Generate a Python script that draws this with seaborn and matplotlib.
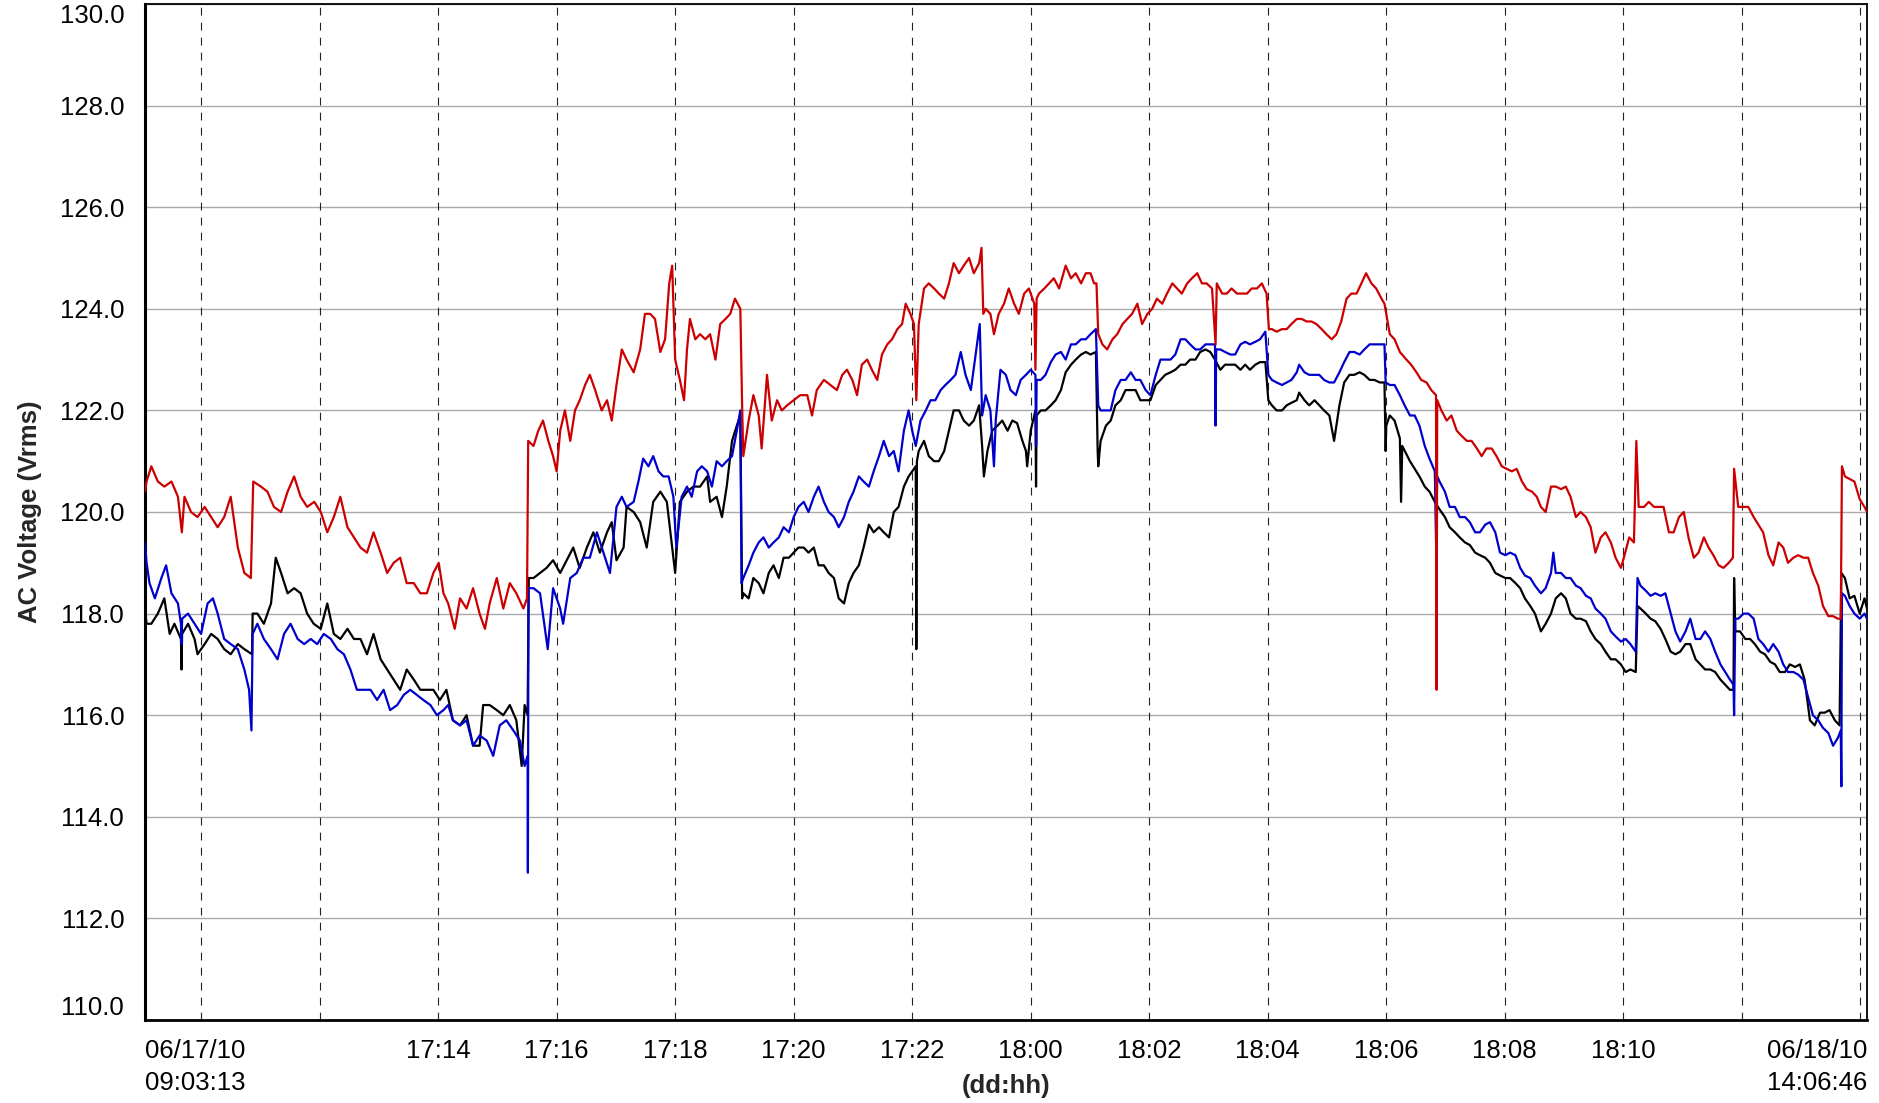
import numpy as np
import pandas as pd
import matplotlib
matplotlib.use("Agg")
import matplotlib.pyplot as plt
import seaborn as sns

# ---------------- data (hours since 2010-06-17 00:00, AC volts) ----------------
day0 = pd.Timestamp("2010-06-17 00:00:00")
t_start = pd.Timestamp("2010-06-17 09:03:13")
t_end = pd.Timestamp("2010-06-18 14:06:46")

red_hours = [9.054, 9.08, 9.16, 9.27, 9.38, 9.50, 9.61, 9.675, 9.72, 9.83, 9.94, 10.06, 10.17, 10.28, 10.39,
             10.50, 10.62, 10.73, 10.84, 10.88, 11.01, 11.12, 11.23, 11.35, 11.46, 11.57, 11.68, 11.79, 11.91,
             12.02, 12.13, 12.24, 12.35, 12.47, 12.58, 12.69, 12.80, 12.91, 13.03, 13.14, 13.25, 13.36, 13.47,
             13.59, 13.70, 13.81, 13.92, 14.01, 14.09, 14.17, 14.28, 14.37, 14.48, 14.59, 14.70, 14.79, 14.87,
             14.99, 15.10, 15.21, 15.32, 15.44, 15.50, 15.52, 15.61, 15.69, 15.77, 15.86, 15.94, 16.00, 16.06,
             16.14, 16.23, 16.31, 16.39, 16.48, 16.56, 16.65, 16.76, 16.85, 16.93, 17.01, 17.10, 17.18, 17.30,
             17.41, 17.49, 17.58, 17.66, 17.75, 17.83, 17.90, 17.95, 18.00, 18.08, 18.15, 18.20, 18.25, 18.34,
             18.42, 18.51, 18.59, 18.68, 18.76, 18.85, 18.93, 19.01, 19.10, 19.13, 19.15, 19.24, 19.32, 19.41,
             19.46, 19.55, 19.63, 19.72, 19.80, 19.89, 20.00, 20.11, 20.23, 20.31, 20.39, 20.51, 20.62, 20.73,
             20.82, 20.90, 20.99, 21.07, 21.15, 21.24, 21.32, 21.41, 21.49, 21.58, 21.66, 21.75, 21.83, 21.89,
             21.97, 22.03, 22.07, 22.11, 22.20, 22.28, 22.37, 22.45, 22.54, 22.62, 22.70, 22.79, 22.87, 22.96,
             23.04, 23.13, 23.17, 23.20, 23.24, 23.32, 23.38, 23.46, 23.55, 23.63, 23.72, 23.80, 23.89, 23.97,
             24.06, 24.08, 24.10, 24.14, 24.23, 24.31, 24.39, 24.48, 24.59, 24.68, 24.76, 24.85, 24.93, 25.01,
             25.07, 25.11, 25.14, 25.21, 25.29, 25.38, 25.46, 25.55, 25.63, 25.71, 25.80, 25.88, 25.97, 26.05,
             26.13, 26.22, 26.30, 26.39, 26.47, 26.55, 26.64, 26.72, 26.81, 26.89, 26.97, 27.06, 27.12, 27.14,
             27.23, 27.31, 27.39, 27.48, 27.56, 27.65, 27.73, 27.82, 27.90, 27.98, 28.02, 28.07, 28.15, 28.24,
             28.32, 28.40, 28.49, 28.57, 28.66, 28.74, 28.82, 28.91, 28.99, 29.08, 29.16, 29.24, 29.33, 29.41,
             29.50, 29.58, 29.66, 29.75, 29.83, 29.92, 29.97, 30.06, 30.14, 30.23, 30.34, 30.42, 30.51, 30.59,
             30.68, 30.76, 30.84, 30.85, 30.86, 30.93, 31.02, 31.10, 31.19, 31.27, 31.36, 31.44, 31.53, 31.61,
             31.69, 31.78, 31.86, 31.95, 32.03, 32.12, 32.20, 32.29, 32.37, 32.46, 32.54, 32.61, 32.69, 32.78,
             32.86, 32.95, 33.03, 33.11, 33.20, 33.28, 33.37, 33.45, 33.53, 33.62, 33.70, 33.79, 33.87, 33.96,
             34.01, 34.10, 34.18, 34.22, 34.26, 34.35, 34.43, 34.52, 34.60, 34.68, 34.77, 34.85, 34.94, 35.02,
             35.10, 35.19, 35.27, 35.36, 35.44, 35.52, 35.61, 35.69, 35.78, 35.85, 35.87, 35.94, 36.03, 36.11,
             36.20, 36.28, 36.36, 36.45, 36.53, 36.62, 36.70, 36.78, 36.87, 36.95, 37.04, 37.12, 37.20, 37.29,
             37.37, 37.46, 37.54, 37.62, 37.67, 37.69, 37.74, 37.82, 37.90, 37.99, 38.07, 38.113]
red_volts = [120.4, 120.6, 120.9, 120.6, 120.5, 120.6, 120.3, 119.6, 120.3, 120.0, 119.9, 120.1, 119.9, 119.7, 119.9,
             120.3, 119.3, 118.8, 118.7, 120.6, 120.5, 120.4, 120.1, 120.0, 120.4, 120.7, 120.3, 120.1, 120.2,
             120.0, 119.6, 119.9, 120.3, 119.7, 119.5, 119.3, 119.2, 119.6, 119.2, 118.8, 119.0, 119.1, 118.6,
             118.6, 118.4, 118.4, 118.8, 119.0, 118.4, 118.2, 117.7, 118.3, 118.1, 118.5, 118.0, 117.7, 118.2,
             118.7, 118.1, 118.6, 118.4, 118.1, 118.3, 121.4, 121.3, 121.6, 121.8, 121.4, 121.1, 120.8, 121.6,
             122.0, 121.4, 122.0, 122.2, 122.5, 122.7, 122.4, 122.0, 122.2, 121.8, 122.5, 123.2, 123.0, 122.75,
             123.2, 123.9, 123.9, 123.8, 123.15, 123.4, 124.5, 124.85, 123.0, 122.6, 122.2, 123.2, 123.8, 123.4,
             123.5, 123.4, 123.5, 123.0, 123.7, 123.8, 123.9, 124.2, 124.0, 122.1, 121.1, 121.8, 122.3, 121.9,
             121.25, 122.7, 121.8, 122.2, 122.0, 122.1, 122.2, 122.3, 122.3, 121.9, 122.4, 122.6, 122.5, 122.4,
             122.7, 122.8, 122.6, 122.3, 122.9, 123.0, 122.8, 122.6, 123.1, 123.3, 123.4, 123.6, 123.7, 124.1,
             123.9, 123.7, 122.2, 123.7, 124.4, 124.5, 124.4, 124.3, 124.2, 124.5, 124.9, 124.7, 124.85, 125.0,
             124.7, 124.9, 125.2, 123.9, 124.0, 123.9, 123.5, 123.9, 124.1, 124.4, 124.1, 123.9, 124.3, 124.4,
             124.1, 122.8, 124.2, 124.3, 124.4, 124.5, 124.6, 124.4, 124.85, 124.6, 124.7, 124.5, 124.7, 124.7,
             124.5, 124.5, 123.5, 123.3, 123.2, 123.4, 123.5, 123.7, 123.8, 123.9, 124.1, 123.7, 123.9, 124.0,
             124.2, 124.1, 124.3, 124.5, 124.4, 124.3, 124.5, 124.6, 124.7, 124.5, 124.5, 124.4, 123.3, 124.5,
             124.3, 124.3, 124.4, 124.3, 124.3, 124.3, 124.4, 124.4, 124.5, 124.3, 123.6, 123.6, 123.55, 123.6,
             123.6, 123.7, 123.8, 123.8, 123.75, 123.75, 123.7, 123.6, 123.5, 123.4, 123.5, 123.75, 124.2, 124.3,
             124.3, 124.5, 124.7, 124.5, 124.4, 124.2, 124.1, 123.5, 123.4, 123.15, 123.0, 122.9, 122.75, 122.6,
             122.55, 122.4, 122.3, 116.5, 122.2, 122.0, 121.8, 121.9, 121.6, 121.5, 121.4, 121.4, 121.25, 121.1,
             121.25, 121.25, 121.1, 120.9, 120.85, 120.8, 120.85, 120.6, 120.45, 120.4, 120.3, 120.1, 120.0, 120.5,
             120.5, 120.45, 120.5, 120.3, 119.9, 120.0, 119.9, 119.7, 119.2, 119.5, 119.6, 119.4, 119.1, 118.9,
             119.1, 119.5, 119.4, 121.4, 120.1, 120.1, 120.2, 120.1, 120.1, 120.1, 119.6, 119.6, 119.9, 120.0,
             119.5, 119.1, 119.2, 119.5, 119.3, 119.15, 118.95, 118.9, 119.0, 119.1, 120.85, 120.1, 120.1, 120.1,
             119.9, 119.75, 119.6, 119.15, 118.95, 119.4, 119.3, 119.0, 119.1, 119.15, 119.1, 119.1, 118.8, 118.55,
             118.15, 117.95, 117.95, 117.9, 117.9, 120.9, 120.7, 120.65, 120.6, 120.25, 120.1, 120.0]

blue_hours = [9.054, 9.08, 9.13, 9.22, 9.33, 9.41, 9.50, 9.61, 9.66, 9.67, 9.68, 9.78, 9.89, 10.00, 10.11, 10.20,
              10.28, 10.39, 10.50, 10.62, 10.73, 10.81, 10.85, 10.87, 10.95, 11.06, 11.18, 11.29, 11.40, 11.51,
              11.63, 11.74, 11.85, 11.96, 12.07, 12.19, 12.30, 12.41, 12.52, 12.63, 12.75, 12.86, 12.97, 13.08,
              13.19, 13.31, 13.42, 13.53, 13.64, 13.75, 13.87, 13.98, 14.09, 14.17, 14.25, 14.37, 14.48, 14.59,
              14.70, 14.82, 14.93, 15.04, 15.15, 15.27, 15.38, 15.46, 15.51, 15.515, 15.525, 15.61, 15.72, 15.85,
              15.94, 16.06, 16.11, 16.23, 16.34, 16.45, 16.56, 16.68, 16.79, 16.90, 17.01, 17.10, 17.18, 17.30,
              17.38, 17.46, 17.55, 17.63, 17.72, 17.80, 17.89, 17.97, 18.02, 18.11, 18.20, 18.28, 18.37, 18.45,
              18.54, 18.62, 18.70, 18.79, 18.87, 18.96, 19.04, 19.10, 19.12, 19.15, 19.24, 19.32, 19.41, 19.49,
              19.58, 19.66, 19.75, 19.83, 19.92, 20.00, 20.08, 20.17, 20.25, 20.34, 20.42, 20.51, 20.59, 20.68,
              20.76, 20.85, 20.93, 21.01, 21.10, 21.18, 21.27, 21.35, 21.44, 21.52, 21.61, 21.69, 21.77, 21.86,
              21.94, 22.00, 22.06, 22.14, 22.23, 22.31, 22.39, 22.48, 22.56, 22.65, 22.73, 22.82, 22.90, 22.99,
              23.07, 23.14, 23.18, 23.24, 23.32, 23.38, 23.41, 23.49, 23.58, 23.66, 23.75, 23.83, 23.92, 24.00,
              24.08, 24.09, 24.10, 24.17, 24.25, 24.34, 24.42, 24.51, 24.59, 24.68, 24.76, 24.85, 24.93, 25.01,
              25.10, 25.14, 25.18, 25.27, 25.35, 25.43, 25.52, 25.60, 25.69, 25.77, 25.85, 25.94, 26.02, 26.11,
              26.19, 26.27, 26.36, 26.44, 26.53, 26.61, 26.69, 26.78, 26.86, 26.95, 27.03, 27.11, 27.12, 27.13,
              27.20, 27.28, 27.37, 27.45, 27.54, 27.62, 27.70, 27.79, 27.87, 27.96, 28.01, 28.07, 28.15, 28.24,
              28.32, 28.40, 28.49, 28.53, 28.62, 28.70, 28.79, 28.87, 28.95, 29.04, 29.12, 29.21, 29.29, 29.38,
              29.46, 29.55, 29.63, 29.72, 29.80, 29.89, 29.97, 29.99, 30.06, 30.14, 30.23, 30.31, 30.40, 30.48,
              30.56, 30.65, 30.73, 30.82, 30.84, 30.86, 30.90, 30.99, 31.07, 31.16, 31.24, 31.33, 31.41, 31.50,
              31.58, 31.67, 31.75, 31.84, 31.92, 32.01, 32.09, 32.18, 32.26, 32.34, 32.43, 32.51, 32.61, 32.69,
              32.78, 32.82, 32.86, 32.95, 33.03, 33.11, 33.20, 33.28, 33.37, 33.45, 33.53, 33.62, 33.70, 33.79,
              33.87, 33.96, 34.04, 34.12, 34.21, 34.24, 34.29, 34.38, 34.46, 34.54, 34.63, 34.71, 34.80, 34.88,
              34.96, 35.05, 35.13, 35.22, 35.30, 35.38, 35.47, 35.55, 35.64, 35.72, 35.80, 35.86, 35.87, 35.89,
              35.94, 36.03, 36.11, 36.20, 36.28, 36.36, 36.45, 36.53, 36.62, 36.70, 36.78, 36.87, 36.95, 37.04,
              37.12, 37.20, 37.29, 37.37, 37.46, 37.54, 37.62, 37.67, 37.68, 37.69, 37.74, 37.82, 37.90, 37.99,
              38.07, 38.113]
blue_volts = [119.4, 119.0, 118.6, 118.3, 118.7, 118.95, 118.4, 118.2, 117.8, 117.4, 117.9, 118.0, 117.8, 117.6, 118.2, 118.3,
              118.0, 117.5, 117.4, 117.3, 116.9, 116.5, 115.7, 117.6, 117.8, 117.5, 117.3, 117.1, 117.6, 117.8,
              117.5, 117.4, 117.5, 117.4, 117.6, 117.5, 117.3, 117.2, 116.9, 116.5, 116.5, 116.5, 116.3, 116.5,
              116.1, 116.2, 116.4, 116.5, 116.4, 116.3, 116.2, 116.0, 116.1, 116.2, 115.9, 115.8, 115.9, 115.4,
              115.6, 115.5, 115.2, 115.8, 115.9, 115.7, 115.5, 115.0, 115.2, 112.9, 118.5, 118.5, 118.4, 117.3,
              118.5, 118.1, 117.8, 118.7, 118.8, 119.1, 119.1, 119.6, 119.2, 118.8, 120.1, 120.3, 120.1, 120.2,
              120.6, 121.05, 120.9, 121.1, 120.8, 120.7, 120.7, 120.3, 119.3, 120.3, 120.5, 120.3, 120.8, 120.9,
              120.8, 120.5, 121.0, 120.9, 121.0, 121.1, 121.6, 122.0, 118.6, 118.7, 118.95, 119.2, 119.4, 119.5,
              119.3, 119.4, 119.5, 119.7, 119.6, 119.9, 120.1, 120.2, 120.0, 120.3, 120.5, 120.2, 120.0, 119.9,
              119.7, 119.9, 120.2, 120.4, 120.7, 120.6, 120.5, 120.8, 121.1, 121.4, 121.1, 121.2, 120.8, 121.6,
              122.0, 121.6, 121.3, 121.8, 122.0, 122.2, 122.2, 122.4, 122.5, 122.6, 122.7, 123.15, 122.7, 122.4,
              123.1, 123.7, 121.9, 122.3, 122.0, 120.9, 121.8, 122.8, 122.7, 122.4, 122.3, 122.6, 122.7, 122.8,
              122.7, 121.3, 122.6, 122.6, 122.7, 122.95, 123.1, 123.15, 123.0, 123.3, 123.3, 123.4, 123.4, 123.5,
              123.6, 122.1, 122.0, 122.0, 122.0, 122.4, 122.6, 122.6, 122.75, 122.6, 122.6, 122.4, 122.3, 122.7,
              123.0, 123.0, 123.0, 123.1, 123.4, 123.4, 123.3, 123.2, 123.2, 123.3, 123.3, 123.3, 121.7, 123.2,
              123.2, 123.15, 123.1, 123.1, 123.3, 123.35, 123.3, 123.35, 123.4, 123.55, 122.7, 122.6, 122.55, 122.5,
              122.55, 122.6, 122.75, 122.9, 122.75, 122.7, 122.7, 122.7, 122.6, 122.55, 122.55, 122.75, 122.95, 123.15,
              123.15, 123.1, 123.2, 123.3, 123.3, 123.3, 123.3, 122.55, 122.5, 122.5, 122.3, 122.1, 121.9, 121.9,
              121.7, 121.3, 121.05, 120.8, 119.4, 120.7, 120.6, 120.4, 120.1, 120.1, 119.9, 119.9, 119.8, 119.6,
              119.6, 119.75, 119.8, 119.6, 119.2, 119.15, 119.2, 119.15, 118.9, 118.75, 118.7, 118.55, 118.4, 118.5,
              118.8, 119.2, 118.8, 118.8, 118.7, 118.7, 118.55, 118.5, 118.35, 118.3, 118.1, 118.0, 117.9, 117.65,
              117.55, 117.45, 117.5, 117.4, 117.25, 118.7, 118.55, 118.45, 118.35, 118.4, 118.35, 118.4, 118.0, 117.65,
              117.45, 117.65, 117.9, 117.5, 117.5, 117.65, 117.5, 117.25, 117.0, 116.85, 116.7, 116.6, 116.0, 117.9,
              117.9, 118.0, 118.0, 117.9, 117.5, 117.4, 117.25, 117.4, 117.25, 117.0, 116.85, 116.85, 116.8, 116.7,
              116.35, 116.0, 115.9, 115.75, 115.65, 115.4, 115.55, 115.7, 114.6, 118.4, 118.35, 118.15, 118.0, 117.9,
              118.0, 117.9]

black_hours = [9.054, 9.08, 9.16, 9.27, 9.38, 9.47, 9.55, 9.66, 9.67, 9.68, 9.78, 9.89, 9.94, 10.06, 10.17, 10.28,
               10.39, 10.50, 10.62, 10.73, 10.86, 10.87, 10.95, 11.06, 11.18, 11.26, 11.35, 11.46, 11.57, 11.68,
               11.79, 11.90, 12.02, 12.13, 12.24, 12.35, 12.47, 12.58, 12.69, 12.80, 12.91, 13.03, 13.14, 13.25,
               13.36, 13.47, 13.59, 13.70, 13.81, 13.92, 14.03, 14.14, 14.25, 14.37, 14.48, 14.59, 14.70, 14.76,
               14.87, 14.99, 15.10, 15.21, 15.32, 15.41, 15.46, 15.51, 15.53, 15.61, 15.72, 15.83, 15.94, 16.06,
               16.17, 16.28, 16.39, 16.51, 16.62, 16.73, 16.85, 16.93, 17.01, 17.13, 17.18, 17.30, 17.41, 17.52,
               17.63, 17.75, 17.86, 18.00, 18.08, 18.20, 18.31, 18.42, 18.54, 18.59, 18.70, 18.79, 18.87, 18.96,
               19.04, 19.10, 19.13, 19.15, 19.24, 19.32, 19.41, 19.49, 19.58, 19.66, 19.75, 19.83, 19.92, 20.00,
               20.08, 20.17, 20.25, 20.34, 20.42, 20.51, 20.59, 20.68, 20.76, 20.85, 20.93, 21.01, 21.10, 21.18,
               21.27, 21.35, 21.44, 21.52, 21.61, 21.69, 21.77, 21.86, 21.94, 22.03, 22.06, 22.07, 22.08, 22.11,
               22.20, 22.28, 22.37, 22.45, 22.54, 22.62, 22.70, 22.79, 22.87, 22.96, 23.04, 23.13, 23.18, 23.21,
               23.27, 23.35, 23.44, 23.52, 23.61, 23.69, 23.77, 23.86, 23.92, 23.94, 24.00, 24.08, 24.09, 24.10,
               24.17, 24.25, 24.34, 24.42, 24.51, 24.59, 24.68, 24.76, 24.85, 24.93, 25.01, 25.10, 25.13, 25.14,
               25.18, 25.27, 25.35, 25.43, 25.52, 25.60, 25.69, 25.77, 25.85, 25.94, 26.02, 26.11, 26.19, 26.27,
               26.36, 26.44, 26.53, 26.61, 26.69, 26.78, 26.86, 26.95, 27.03, 27.11, 27.20, 27.28, 27.37, 27.45,
               27.54, 27.62, 27.70, 27.79, 27.87, 27.96, 28.01, 28.07, 28.15, 28.24, 28.32, 28.40, 28.49, 28.53,
               28.62, 28.70, 28.79, 28.87, 28.95, 29.04, 29.12, 29.21, 29.29, 29.38, 29.46, 29.55, 29.63, 29.72,
               29.80, 29.89, 29.97, 29.99, 30.00, 30.06, 30.14, 30.23, 30.25, 30.27, 30.40, 30.48, 30.56, 30.65,
               30.73, 30.82, 30.90, 30.99, 31.07, 31.16, 31.24, 31.33, 31.41, 31.50, 31.58, 31.67, 31.75, 31.84,
               31.92, 32.01, 32.09, 32.18, 32.26, 32.34, 32.43, 32.51, 32.61, 32.69, 32.78, 32.86, 32.95, 33.03,
               33.11, 33.20, 33.28, 33.37, 33.45, 33.53, 33.62, 33.70, 33.79, 33.87, 33.96, 34.04, 34.12, 34.21,
               34.24, 34.29, 34.38, 34.46, 34.54, 34.63, 34.71, 34.80, 34.88, 34.96, 35.05, 35.13, 35.22, 35.30,
               35.38, 35.47, 35.55, 35.64, 35.72, 35.80, 35.86, 35.87, 35.89, 35.97, 36.06, 36.14, 36.22, 36.31,
               36.39, 36.48, 36.56, 36.64, 36.73, 36.81, 36.90, 36.98, 37.06, 37.15, 37.23, 37.32, 37.40, 37.48,
               37.57, 37.65, 37.68, 37.74, 37.82, 37.90, 37.99, 38.07, 38.113]
black_volts = [118.1, 117.8, 117.8, 118.0, 118.3, 117.6, 117.8, 117.5, 116.9, 117.6, 117.8, 117.5, 117.2, 117.4, 117.6, 117.5,
               117.3, 117.2, 117.4, 117.3, 117.2, 118.0, 118.0, 117.8, 118.2, 119.1, 118.8, 118.4, 118.5, 118.4,
               118.0, 117.8, 117.7, 118.2, 117.6, 117.5, 117.7, 117.5, 117.5, 117.2, 117.6, 117.1, 116.9, 116.7,
               116.5, 116.9, 116.7, 116.5, 116.5, 116.5, 116.3, 116.5, 115.9, 115.8, 116.0, 115.4, 115.4, 116.2,
               116.2, 116.1, 116.0, 116.2, 115.9, 115.0, 116.2, 116.0, 118.7, 118.7, 118.8, 118.9, 119.05, 118.8,
               119.05, 119.3, 118.9, 119.3, 119.6, 119.2, 119.6, 119.8, 119.05, 119.3, 120.1, 120.0, 119.8, 119.3,
               120.2, 120.4, 120.2, 118.8, 120.2, 120.4, 120.5, 120.5, 120.7, 120.2, 120.3, 119.9, 120.5, 121.4,
               121.7, 121.9, 118.3, 118.4, 118.3, 118.7, 118.6, 118.4, 118.8, 118.95, 118.7, 119.1, 119.1, 119.2,
               119.3, 119.3, 119.2, 119.3, 118.95, 118.95, 118.8, 118.7, 118.3, 118.2, 118.6, 118.8, 118.95, 119.3,
               119.75, 119.6, 119.7, 119.6, 119.5, 120.0, 120.1, 120.5, 120.7, 120.85, 120.9, 117.3, 121.0, 121.2,
               121.4, 121.1, 121.0, 121.0, 121.2, 121.6, 122.0, 122.0, 121.8, 121.7, 121.8, 122.1, 121.3, 120.7,
               121.2, 121.6, 121.7, 121.8, 121.6, 121.8, 121.75, 121.4, 121.2, 120.9, 121.6, 122.0, 120.5, 121.9,
               122.0, 122.0, 122.1, 122.2, 122.4, 122.75, 122.9, 123.0, 123.1, 123.15, 123.1, 123.15, 121.2, 120.9,
               121.4, 121.7, 121.8, 122.1, 122.2, 122.4, 122.4, 122.4, 122.2, 122.2, 122.2, 122.5, 122.6, 122.7,
               122.75, 122.8, 122.9, 122.9, 123.0, 123.0, 123.15, 123.2, 123.15, 123.0, 122.8, 122.9, 122.9, 122.9,
               122.8, 122.9, 122.8, 122.9, 122.95, 122.95, 122.2, 122.1, 122.0, 122.0, 122.1, 122.15, 122.2, 122.35,
               122.2, 122.1, 122.2, 122.1, 122.0, 121.9, 121.4, 122.1, 122.55, 122.7, 122.7, 122.75, 122.7, 122.6,
               122.6, 122.55, 122.55, 121.2, 121.7, 121.9, 121.8, 121.45, 120.2, 121.3, 121.0, 120.85, 120.7, 120.5,
               120.4, 120.2, 120.05, 119.9, 119.7, 119.6, 119.5, 119.4, 119.35, 119.2, 119.15, 119.1, 119.0, 118.8,
               118.75, 118.7, 118.7, 118.6, 118.5, 118.3, 118.15, 118.0, 117.65, 117.8, 118.0, 118.3, 118.4, 118.3,
               118.0, 117.9, 117.9, 117.85, 117.65, 117.5, 117.4, 117.25, 117.1, 117.1, 117.0, 116.85, 116.9, 116.85,
               118.15, 118.1, 118.0, 117.9, 117.85, 117.7, 117.5, 117.25, 117.2, 117.25, 117.4, 117.4, 117.1, 117.0,
               116.9, 116.9, 116.85, 116.7, 116.6, 116.5, 116.5, 118.7, 117.65, 117.65, 117.5, 117.5, 117.4, 117.25,
               117.2, 117.05, 117.0, 116.85, 116.85, 117.0, 116.95, 117.0, 116.7, 115.9, 115.8, 116.05, 116.05, 116.1,
               115.9, 115.8, 118.8, 118.7, 118.3, 118.35, 118.0, 118.3, 118.1]

y_tick_values = [110.0, 112.0, 114.0, 116.0, 118.0, 120.0, 122.0, 124.0, 126.0, 128.0, 130.0]
grid_hours = [10, 12, 14, 16, 18, 20, 22, 24, 26, 28, 30, 32, 34, 36, 38]
grid_labels = ["", "", "17:14", "17:16", "17:18", "17:20", "17:22", "18:00", "18:02",
               "18:04", "18:06", "18:08", "18:10", "", ""]
start_label = "06/17/10\n09:03:13"
end_label = "06/18/10\n14:06:46"
phase_colors = {"black": "#000000", "blue": "#0000CC", "red": "#CC0000"}


def frame(hours, volts, name):
    return pd.DataFrame({"time": day0 + pd.to_timedelta(np.asarray(hours), unit="h"),
                         "volts": volts, "phase": name})


df = pd.concat([frame(black_hours, black_volts, "black"),
                frame(blue_hours, blue_volts, "blue"),
                frame(red_hours, red_volts, "red")], ignore_index=True)

# ---------------- styling ----------------
sns.set_theme(style="white")
plt.rcParams["font.family"] = ["Liberation Sans", "DejaVu Sans"]
FS = 18.5

W, H = 1879, 1103
fig = plt.figure(figsize=(W / 100, H / 100), dpi=100)
fig.patch.set_facecolor("white")
ax = fig.add_axes([145 / W, 83 / H, 1722 / W, 1016 / H])
ax.set_facecolor("white")

for i, (name, color) in enumerate(phase_colors.items()):
    sns.lineplot(data=df[df["phase"] == name], x="time", y="volts", color=color,
                 linewidth=1.6, estimator=None, sort=False, legend=False, ax=ax, zorder=3 + i)

ax.set_xlim(t_start, t_end)
ax.set_ylim(110, 130)

# grid
ax.set_axisbelow(True)
ax.yaxis.grid(True, color="#aaaaaa", linewidth=1.0)
ax.xaxis.grid(False)
for h in grid_hours:
    ax.axvline(day0 + pd.Timedelta(hours=h), color="#222222", linewidth=0.8,
               linestyle=(0, (7.0, 6.5)), zorder=1)

# ticks
grid_times = [day0 + pd.Timedelta(hours=h) for h in grid_hours]
ax.set_xticks([t_start] + grid_times + [t_end])
ax.set_xticklabels([start_label] + grid_labels + [end_label], fontsize=FS, linespacing=1.45)
xlabels = ax.get_xticklabels()
xlabels[0].set_horizontalalignment("left")
xlabels[-1].set_horizontalalignment("right")

ax.set_yticks(y_tick_values)
ax.set_yticklabels([f"{v:.1f}" for v in y_tick_values], fontsize=FS)
ylabels = ax.get_yticklabels()
ylabels[0].set_verticalalignment("bottom")
ylabels[-1].set_verticalalignment("top")

ax.tick_params(axis="both", direction="inout", length=13, width=1.7, color="black",
               labelcolor="black")
ax.tick_params(axis="x", pad=7)
ax.tick_params(axis="y", pad=8.5)

for side, lw in [("left", 2.2), ("bottom", 2.0), ("top", 1.3), ("right", 1.3)]:
    ax.spines[side].set_visible(True)
    ax.spines[side].set_color("black")
    ax.spines[side].set_linewidth(lw)

ax.set_ylabel("AC Voltage (Vrms)", fontsize=FS, fontweight="bold", va="center", ha="center")
ax.yaxis.set_label_coords((30 - 145) / 1722, 0.5)
ax.set_xlabel("(dd:hh)", fontsize=FS, fontweight="bold", va="center", ha="center")
ax.xaxis.set_label_coords(0.5, (1020 - 1086) / 1016)

fig.savefig("out.png", dpi=100, facecolor="white")
